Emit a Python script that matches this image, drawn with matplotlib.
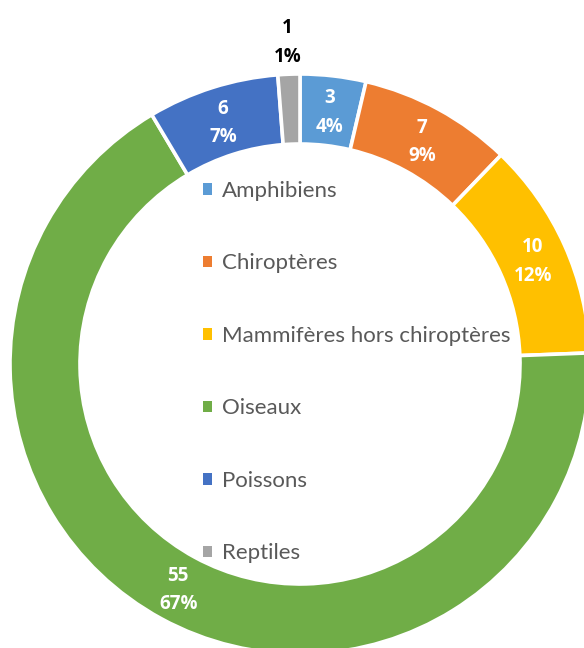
import numpy as np
import matplotlib
matplotlib.use("Agg")
import matplotlib.pyplot as plt

categories = ["Amphibiens", "Chiroptères", "Mammifères hors chiroptères",
              "Oiseaux", "Poissons", "Reptiles"]
values = [3, 7, 10, 55, 6, 1]
percent_labels = ["4%", "9%", "12%", "67%", "7%", "1%"]
colors = ["#5B9BD5", "#ED7D31", "#FFC000", "#70AD47", "#4472C4", "#A5A5A5"]

W, H = 584, 648
fig = plt.figure(figsize=(W / 100, H / 100), dpi=100)
ax = fig.add_axes([0, 0, 1, 1])
ax.set_xlim(0, W)
ax.set_ylim(0, H)
ax.set_aspect("equal")
ax.axis("off")

cx, cy = 300, H - 364
R = 290
width = 70

wedges, _ = ax.pie(values, colors=colors, startangle=90, counterclock=False,
                   radius=R, center=(cx, cy),
                   wedgeprops=dict(width=width, edgecolor="white", linewidth=2.6))
ax.set_xlim(0, W)
ax.set_ylim(0, H)

label_font = ["Open Sans", "DejaVu Sans"]
legend_font = ["Lato", "DejaVu Sans"]
for w, v, p in zip(wedges, values, percent_labels):
    ang = np.deg2rad((w.theta1 + w.theta2) / 2)
    if v / sum(values) < 0.02:
        r, col = R + 34, "black"
    else:
        r, col = R - width / 2, "white"
    x = cx + r * np.cos(ang)
    y = cy + r * np.sin(ang) - 2
    ax.text(x, y, f"{v}\n{p}", ha="center", va="center", color=col,
            fontsize=13.5, fontweight="bold", family=label_font, linespacing=1.58)

leg = ax.legend(wedges, categories, loc="upper left",
                bbox_to_anchor=(203 / W, 1 - 181 / H), bbox_transform=fig.transFigure,
                frameon=False, prop=dict(family=legend_font, size=16),
                labelcolor="#595959", handlelength=0.42, handleheight=0.42,
                handletextpad=0.42, labelspacing=2.36, borderpad=0, borderaxespad=0)
for h in leg.legend_handles:
    h.set_edgecolor("none")

fig.savefig("out.png", dpi=100)
